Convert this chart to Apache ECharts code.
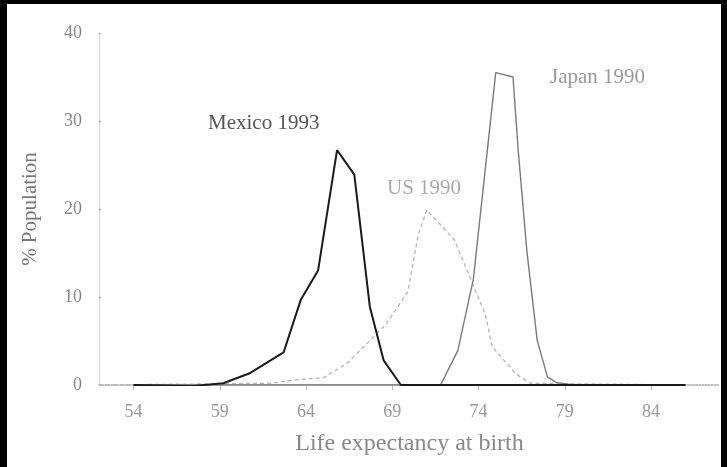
<!DOCTYPE html>
<html>
<head>
<meta charset="utf-8">
<script src="https://cdn.jsdelivr.net/npm/echarts@6/dist/echarts.min.js"></script>
<style>
html,body{margin:0;padding:0;background:#fff;}
#c{width:727px;height:467px;}
</style>
</head>
<body>
<div id="c"></div>
<script>
// Data (life expectancy at birth, % of population)
var mexicoAge = [54, 57.5, 59.2, 60.7, 62.7, 63.7, 64.7, 65.8, 66.8, 67.7, 68.5, 69.5, 86];
var mexicoPct = [0, -0.1, 0.2, 1.3, 3.7, 9.7, 13, 26.7, 23.9, 8.9, 2.8, 0, 0];

var japanAge = [54, 71.8, 72.8, 73.7, 75.0, 76.0, 76.3, 76.8, 77.4, 78.0, 78.5, 79.5, 86];
var japanPct = [0, 0, 3.9, 12, 35.5, 35, 26.7, 15.3, 5.1, 0.9, 0.3, 0, 0];

var usAge = [52, 62, 63.5, 65, 66.4, 68.6, 69.9, 70.5, 71, 72.6, 73.6, 74.4, 74.8, 76.2, 77, 86];
var usPct = [0, 0.2, 0.6, 0.8, 2.5, 6.8, 10.6, 17, 19.9, 16.5, 11.8, 8, 4.3, 1.2, 0.2, 0];

var xTicks = [54, 59, 64, 69, 74, 79, 84];

function pairs(a, b){ return a.map(function(v,i){ return [v, b[i]]; }); }

var serif = 'Liberation Serif, DejaVu Serif, serif';
var chart = echarts.init(document.getElementById('c'));
chart.setOption({
  backgroundColor: '#fff',
  animation: false,
  grid: {left: 99, right: 7, top: 33, bottom: 82, containLabel: false},
  xAxis: {
    type: 'value', min: 52, max: 88,
    name: 'Life expectancy at birth', nameLocation: 'middle', nameGap: 47,
    nameTextStyle: {fontFamily: serif, fontSize: 24, color: '#888'},
    axisLine: {show: true, lineStyle: {color: '#aaa', type: 'dotted', width: 1.5}},
    axisTick: {show: true, customValues: xTicks, length: 5, lineStyle: {color: '#bbb'}},
    axisLabel: {customValues: xTicks, fontFamily: serif, fontSize: 18, color: '#999', margin: 18},
    splitLine: {show: false}
  },
  yAxis: {
    type: 'value', min: 0, max: 40, interval: 10,
    name: '% Population', nameLocation: 'middle', nameGap: 58, nameRotate: 90,
    nameTextStyle: {fontFamily: serif, fontSize: 21, color: '#777'},
    axisLine: {show: true, lineStyle: {color: '#ccc', type: 'dotted'}},
    axisTick: {show: true, inside: true, length: 2, lineStyle: {color: '#999'}},
    axisLabel: {fontFamily: serif, fontSize: 18, color: '#888', margin: 17},
    splitLine: {show: false}
  },
  series: [
    {
      name: 'US 1990', type: 'line', symbol: 'none', z: 1,
      data: pairs(usAge, usPct),
      lineStyle: {color: '#b5b5b5', width: 1.3, type: [4, 3]}
    },
    {
      name: 'Japan 1990', type: 'line', symbol: 'none', z: 2,
      data: pairs(japanAge, japanPct),
      lineStyle: {color: '#7a7a7a', width: 1.4}
    },
    {
      name: 'Mexico 1993', type: 'line', symbol: 'none', z: 3,
      data: pairs(mexicoAge, mexicoPct),
      lineStyle: {color: '#1a1a1a', width: 2}
    }
  ],
  graphic: [
    {type: 'text', left: 208, top: 113, style: {text: 'Mexico 1993', fontFamily: serif, fontSize: 21, fill: '#555'}},
    {type: 'text', left: 550, top: 67, style: {text: 'Japan 1990', fontFamily: serif, fontSize: 21, fill: '#999'}},
    {type: 'text', left: 387, top: 178, style: {text: 'US 1990', fontFamily: serif, fontSize: 21, fill: '#aaa'}},
    {type: 'rect', left: 0, top: 0, shape: {width: 7, height: 467}, style: {fill: '#000'}},
    {type: 'rect', left: 0, top: 0, shape: {width: 727, height: 4}, style: {fill: '#000'}},
    {type: 'rect', left: 721, top: 0, shape: {width: 6, height: 467}, style: {fill: '#000'}}
  ]
});
</script>
</body>
</html>
